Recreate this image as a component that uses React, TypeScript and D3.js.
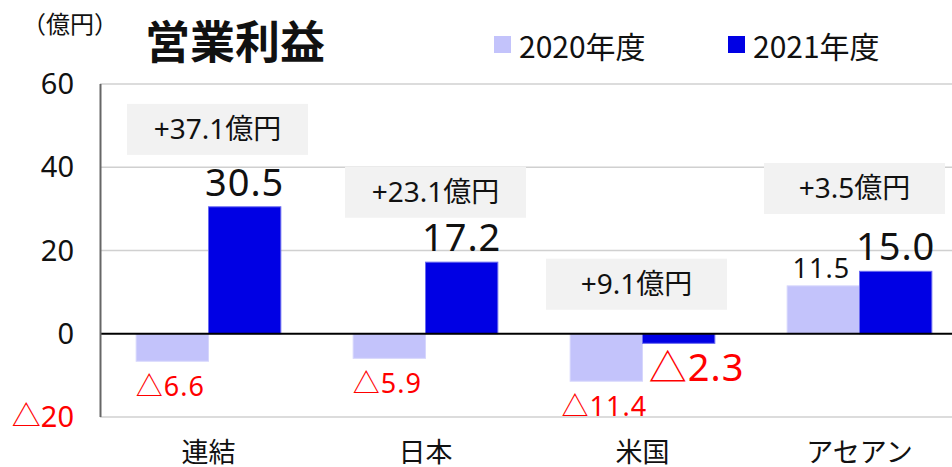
import React from "react";
import * as d3 from "d3";

const categories = ["連結", "日本", "米国", "アセアン"];
const values2020 = [-6.6, -5.9, -11.4, 11.5];
const values2021 = [30.5, 17.2, -2.3, 15.0];
const deltaLabels = ["+37.1億円", "+23.1億円", "+9.1億円", "+3.5億円"];
const yTicks = [60, 40, 20, 0, -20];
const seriesNames = ["2020年度", "2021年度"];

// layout (not data): annotation box centre level (value units) and x shift (px)
const boxLevel = [49.1, 34.0, 11.9, 34.9];
const boxShift = [9, 10, -6, -5];

const W = 952;
const H = 467;
const C2020 = "#c3c3fb";
const C2021 = "#0000e4";
const LATIN = "'Noto Sans', 'Noto Sans CJK JP', sans-serif";
const CJK = "'Noto Sans CJK JP', 'Noto Sans', sans-serif";

const fmt = (v: number) => (v < 0 ? "△" + Math.abs(v).toFixed(1) : v.toFixed(1));

export default function App() {
  const x = d3
    .scaleBand<string>()
    .domain(categories)
    .range([100, 968])
    .paddingInner(1 / 3)
    .paddingOuter(1 / 6);
  const y = d3.scaleLinear().domain([-20, 60]).range([417, 84]);
  const bw = x.bandwidth() / 2;
  const y0 = y(0);

  return (
    <svg
      width={W}
      height={H}
      style={{ position: "absolute", left: 0, top: 0, background: "#fff" }}
    >
      {/* gridlines */}
      {yTicks
        .filter((t) => t !== 0)
        .map((t) => (
          <line key={t} x1={100} x2={W} y1={y(t)} y2={y(t)} stroke="#d0d0d0" strokeWidth={1.5} />
        ))}

      {/* annotation boxes */}
      {categories.map((c, i) => {
        const cx = (x(c) as number) + x.bandwidth() / 2 + boxShift[i];
        const cy = y(boxLevel[i]);
        return (
          <g key={"box" + c}>
            <rect x={cx - 90.5} y={cy - 25.5} width={181} height={51} fill="#f2f2f2" />
            <text
              x={cx}
              y={cy + 10}
              textAnchor="middle"
              fontSize={28}
              fontFamily={LATIN}
              fill="#111"
            >
              {deltaLabels[i]}
            </text>
          </g>
        );
      })}

      {/* bars */}
      {categories.map((c, i) => {
        const bx = x(c) as number;
        const v1 = values2020[i];
        const v2 = values2021[i];
        return (
          <g key={"bars" + c}>
            <rect
              x={bx}
              y={Math.min(y(v1), y0)}
              width={bw}
              height={Math.abs(y(v1) - y0)}
              fill={C2020}
              stroke="#d6d6fc"
              strokeWidth={1}
            />
            <rect
              x={bx + bw}
              y={Math.min(y(v2), y0)}
              width={bw}
              height={Math.abs(y(v2) - y0)}
              fill={C2021}
              stroke="#6a6af0"
              strokeWidth={1}
            />
          </g>
        );
      })}

      {/* zero line */}
      <line x1={100} x2={W} y1={y0} y2={y0} stroke="#000" strokeWidth={2} />
      {/* y axis */}
      <line x1={100.5} x2={100.5} y1={y(60)} y2={y(-20)} stroke="#666" strokeWidth={2} />

      {/* y tick labels */}
      {yTicks.map((t) => (
        <text
          key={"t" + t}
          x={74}
          y={y(t) + 10}
          textAnchor="end"
          fontSize={29}
          fontFamily={LATIN}
          fill={t < 0 ? "#ff0000" : "#111"}
        >
          {fmt(t).replace(".0", "")}
        </text>
      ))}

      {/* value labels 2020 */}
      {categories.map((c, i) => {
        const v = values2020[i];
        const cx = (x(c) as number) + bw / 2 - 2;
        return (
          <text
            key={"l20" + c}
            x={cx}
            y={v < 0 ? y(v) + 35 : y(v) - 8}
            textAnchor="middle"
            fontSize={27}
            letterSpacing={1}
            fontFamily={LATIN}
            fill={v < 0 ? "#ff0000" : "#111"}
          >
            {fmt(v)}
          </text>
        );
      })}

      {/* value labels 2021 */}
      {categories.map((c, i) => {
        const v = values2021[i];
        const cx = (x(c) as number) + bw * 1.5 + (v < 0 ? 18 : 0);
        return (
          <text
            key={"l21" + c}
            x={cx}
            y={v < 0 ? y(v) + 38 : y(v) - 11}
            textAnchor="middle"
            fontSize={38}
            letterSpacing={1}
            fontFamily={LATIN}
            fill={v < 0 ? "#ff0000" : "#111"}
          >
            {fmt(v)}
          </text>
        );
      })}

      {/* category labels */}
      {categories.map((c) => (
        <text
          key={"c" + c}
          x={(x(c) as number) + x.bandwidth() / 2}
          y={462}
          textAnchor="middle"
          fontSize={27}
          fontFamily={CJK}
          fill="#111"
        >
          {c}
        </text>
      ))}

      {/* titles */}
      <text x={22} y={33} fontSize={24} fontFamily={CJK} fill="#111">
        （億円）
      </text>
      <text x={145} y={59} fontSize={45} fontWeight="bold" fontFamily={CJK} fill="#111">
        営業利益
      </text>

      {/* legend */}
      {seriesNames.map((s, i) => {
        const lx = i === 0 ? 494 : 728;
        return (
          <g key={"lg" + s}>
            <rect x={lx} y={36} width={17} height={17} fill={i === 0 ? C2020 : C2021} />
            <text x={lx + 25} y={58} fontSize={30} fontFamily={CJK} fill="#111">
              {s}
            </text>
          </g>
        );
      })}
    </svg>
  );
}
